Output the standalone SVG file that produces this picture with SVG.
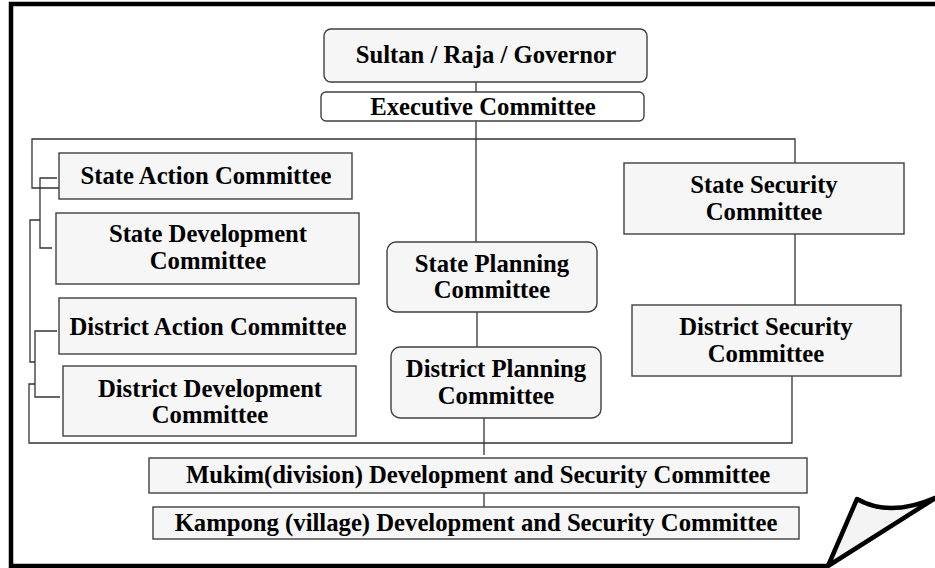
<svg xmlns="http://www.w3.org/2000/svg" width="935" height="568" viewBox="0 0 935 568">
  <style>
    .box { fill: #f6f6f6; stroke: #404040; stroke-width: 1.4; }
    .wire { fill: none; stroke: #333333; stroke-width: 1.3; }
    .lbl { font-family: "Liberation Serif", "Times New Roman", serif; font-weight: bold; font-size: 24.7px; fill: #000000; text-anchor: middle; }
    .frame { fill: none; stroke: #000000; stroke-width: 4.5; stroke-linejoin: miter; }
  </style>
  <rect x="0" y="0" width="935" height="568" fill="#ffffff"/>

  <!-- page frame with curled corner -->
  <g id="page-frame">
    <path class="frame" d="M828,566 L11,566 L11,4 L945,4"/>
    <path d="M828,566 L857,499 Q890,518 937,497 Z" fill="#f4f4f4" stroke="#000000" stroke-width="4.5" stroke-linejoin="round"/>
  </g>

  <!-- connectors -->
  <g id="connectors">
    <line class="wire" x1="476" y1="82" x2="476" y2="242"/>
    <polyline class="wire" points="59,188 32,188 32,139 795,139 795,163"/>
    <polyline class="wire" points="57,178 40,178 40,248 52,248"/>
    <polyline class="wire" points="40,220 30,220 30,362 35,362"/>
    <polyline class="wire" points="57,331 35,331 35,397 60,397"/>
    <polyline class="wire" points="35,384 29,384 29,443 792,443 792,376"/>
    <line class="wire" x1="477" y1="312" x2="477" y2="347"/>
    <line class="wire" x1="795" y1="234" x2="795" y2="305"/>
    <line class="wire" x1="484" y1="418" x2="484" y2="455"/>
    <line class="wire" x1="484" y1="493" x2="484" y2="514"/>
  </g>

  <g id="sultan">
    <rect class="box" x="324" y="29" width="323" height="53" rx="7"/>
    <text class="lbl" x="486" y="63">Sultan / Raja / Governor</text>
  </g>
  <g id="executive">
    <rect x="321" y="92" width="323" height="29" rx="5" fill="#ffffff" stroke="#404040" stroke-width="1.4"/>
    <text class="lbl" x="483" y="115">Executive Committee</text>
  </g>

  <g id="state-action">
    <rect class="box" x="59" y="153" width="293" height="46"/>
    <text class="lbl" x="206" y="184">State Action Committee</text>
  </g>
  <g id="state-development">
    <rect class="box" x="56" y="213" width="303" height="71"/>
    <text class="lbl" x="208" y="242">State Development</text>
    <text class="lbl" x="208" y="269">Committee</text>
  </g>
  <g id="district-action">
    <rect class="box" x="59" y="298" width="297" height="56"/>
    <text class="lbl" x="208" y="335">District Action Committee</text>
  </g>
  <g id="district-development">
    <rect class="box" x="63" y="366" width="293" height="70"/>
    <text class="lbl" x="210" y="397">District Development</text>
    <text class="lbl" x="210" y="423">Committee</text>
  </g>

  <g id="state-planning">
    <rect class="box" x="387" y="242" width="210" height="70" rx="9"/>
    <text class="lbl" x="492" y="272">State Planning</text>
    <text class="lbl" x="492" y="298">Committee</text>
  </g>
  <g id="district-planning">
    <rect class="box" x="391" y="347" width="210" height="71" rx="9"/>
    <text class="lbl" x="496" y="377">District Planning</text>
    <text class="lbl" x="496" y="404">Committee</text>
  </g>

  <g id="state-security">
    <rect class="box" x="624" y="163" width="280" height="71"/>
    <text class="lbl" x="764" y="193">State Security</text>
    <text class="lbl" x="764" y="220">Committee</text>
  </g>
  <g id="district-security">
    <rect class="box" x="632" y="305" width="269" height="71"/>
    <text class="lbl" x="766" y="335">District Security</text>
    <text class="lbl" x="766" y="362">Committee</text>
  </g>

  <g id="mukim">
    <rect class="box" x="149" y="458" width="658" height="35"/>
    <text class="lbl" x="478" y="483">Mukim(division) Development and Security Committee</text>
  </g>
  <g id="kampong">
    <rect class="box" x="153" y="507" width="646" height="32"/>
    <text class="lbl" x="476" y="531">Kampong (village) Development and Security Committee</text>
  </g>
</svg>
